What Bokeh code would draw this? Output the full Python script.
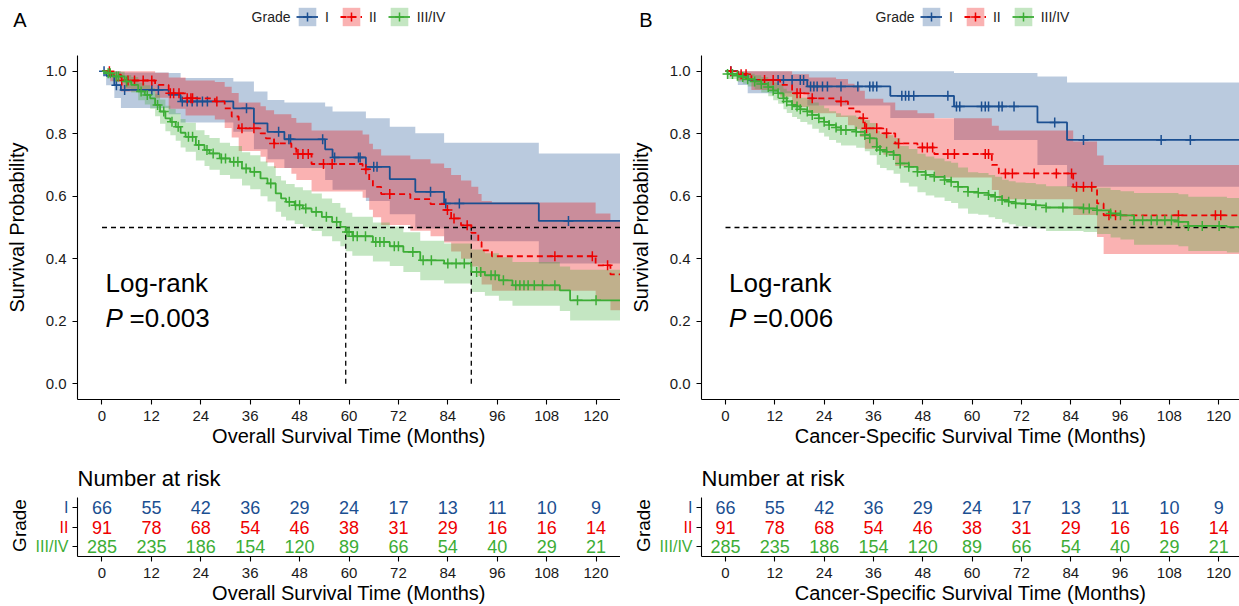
import numpy as np
from bokeh.plotting import figure
from bokeh.layouts import row, column
from bokeh.models import Range1d, FixedTicker, PrintfTickFormatter, Label, Legend, LegendItem
from bokeh.embed import file_html
from bokeh.resources import INLINE
from bokeh.core.properties import value

FONT = "Liberation Sans"

# ---------------- categories / styles ----------------
grades = ["I", "II", "III/IV"]
grade_colors = ["#1B4F91", "#EE0000", "#3DAD36"]
grade_dash = ["solid", "6 4", "solid"]
risk_rows = [3, 2, 1]

# ---------------- number at risk (same in both panels) ----------------
risk_times = [0, 12, 24, 36, 48, 60, 72, 84, 96, 108, 120]
risk_I = [66, 55, 42, 36, 29, 24, 17, 13, 11, 10, 9]
risk_II = [91, 78, 68, 54, 46, 38, 31, 29, 16, 16, 14]
risk_III = [285, 235, 186, 154, 120, 89, 66, 54, 40, 29, 21]

# ---------------- Panel A : overall survival ----------------
A_I_time = [0, 1.0, 3.0, 4.6, 16.2, 19.1, 31.9, 36.9, 40.2, 44.3, 54.2, 56.0, 64.1, 69.9, 76.1, 83.1, 106.1]
A_I_surv = [1.0, 0.985, 0.955, 0.94, 0.924, 0.903, 0.881, 0.833, 0.806, 0.782, 0.75, 0.724, 0.694, 0.655, 0.614, 0.577, 0.521]
A_I_up = [1.0, 1.0, 1.0, 0.996, 0.994, 0.978, 0.967, 0.935, 0.908, 0.9, 0.887, 0.871, 0.849, 0.822, 0.801, 0.771, 0.737]
A_I_low = [1.0, 0.955, 0.914, 0.882, 0.862, 0.836, 0.806, 0.75, 0.718, 0.69, 0.652, 0.621, 0.585, 0.542, 0.497, 0.456, 0.385]
A_I_cens = [0.5, 3.5, 5.5, 12.1, 13.7, 19.5, 20.7, 21.9, 23.1, 24.4, 25.6, 35.1, 42.9, 45.4, 45.8, 53.6, 56.5,
            62.3, 62.7, 66.0, 66.8, 79.8, 83.5, 86.8, 113.3]
A_I_last = 125.9

A_II_time = [0, 2.0, 4.6, 12.9, 16.2, 20.3, 27.4, 29.8, 31.5, 33.2, 38.5, 39.8, 41.8, 46.0, 47.2, 50.9, 63.3,
             64.9, 65.8, 67.8, 74.9, 79.8, 83.1, 84.8, 87.2, 89.7, 91.4, 92.2, 94.7, 119.9, 123.5]
A_II_surv = [1.0, 0.989, 0.97, 0.956, 0.929, 0.913, 0.903, 0.881, 0.855, 0.817, 0.801, 0.785, 0.769, 0.753, 0.735,
             0.703, 0.686, 0.652, 0.63, 0.607, 0.591, 0.575, 0.556, 0.529, 0.507, 0.483, 0.454, 0.427, 0.408, 0.379, 0.35]
A_II_up = [1.0, 1.0, 1.0, 0.995, 0.98, 0.97, 0.965, 0.95, 0.93, 0.9, 0.888, 0.875, 0.862, 0.85, 0.835, 0.81, 0.797,
           0.768, 0.75, 0.73, 0.718, 0.705, 0.69, 0.668, 0.65, 0.63, 0.607, 0.585, 0.58, 0.545, 0.52]
A_II_low = [1.0, 0.968, 0.935, 0.915, 0.88, 0.858, 0.845, 0.818, 0.788, 0.745, 0.726, 0.708, 0.69, 0.672, 0.652,
            0.615, 0.595, 0.557, 0.533, 0.508, 0.49, 0.472, 0.452, 0.423, 0.4, 0.375, 0.345, 0.318, 0.298, 0.265, 0.235]
A_II_cens = [1.8, 4.8, 6.3, 7.9, 10.0, 12.1, 16.6, 17.4, 18.7, 20.7, 21.6, 22.0, 27.9, 34.0, 36.9, 41.8, 47.6,
             48.8, 50.1, 53.8, 55.9, 64.1, 69.9, 83.9, 85.5, 88.7, 110.0, 119.1, 122.8]
A_II_last = 125.9

A_III_time = [0, 1.0, 2.6, 5.5, 7.1, 8.8, 10.4, 11.7, 12.9, 14.1, 15.4, 16.6, 17.9, 19.1, 20.3, 22.8, 24.9, 26.1,
              28.6, 31.1, 34.0, 36.0, 38.5, 40.2, 42.2, 43.5, 44.7, 46.8, 48.8, 50.9, 53.4, 55.9, 57.9, 59.2, 60.8,
              65.8, 69.9, 73.2, 77.3, 83.1, 89.7, 93.0, 96.4, 99.7, 111.2, 113.7]
A_III_surv = [1.0, 0.993, 0.983, 0.967, 0.956, 0.935, 0.924, 0.913, 0.892, 0.871, 0.849, 0.838, 0.822, 0.803, 0.790,
              0.764, 0.748, 0.737, 0.721, 0.710, 0.689, 0.678, 0.657, 0.641, 0.609, 0.593, 0.582, 0.571, 0.561, 0.550,
              0.534, 0.518, 0.502, 0.486, 0.472, 0.454, 0.440, 0.422, 0.395, 0.385, 0.358, 0.347, 0.331, 0.315, 0.299, 0.267]
A_III_up = [1.0, 1.0, 0.998, 0.988, 0.981, 0.963, 0.955, 0.946, 0.928, 0.909, 0.889, 0.879, 0.865, 0.847, 0.835,
            0.811, 0.796, 0.786, 0.771, 0.761, 0.741, 0.731, 0.711, 0.696, 0.665, 0.65, 0.639, 0.629, 0.619, 0.609,
            0.593, 0.578, 0.563, 0.547, 0.534, 0.516, 0.503, 0.485, 0.458, 0.449, 0.43, 0.418, 0.405, 0.39, 0.375, 0.365]
A_III_low = [1.0, 0.985, 0.968, 0.945, 0.932, 0.907, 0.893, 0.88, 0.856, 0.832, 0.808, 0.795, 0.777, 0.756, 0.742,
             0.714, 0.697, 0.685, 0.668, 0.656, 0.634, 0.622, 0.6, 0.583, 0.55, 0.534, 0.522, 0.511, 0.5, 0.489,
             0.472, 0.456, 0.44, 0.424, 0.41, 0.391, 0.377, 0.358, 0.331, 0.321, 0.294, 0.282, 0.266, 0.25, 0.233, 0.203]
A_III_cens = [1.5, 2.0, 3.5, 4.0, 6.0, 9.5, 11.0, 13.5, 15.0, 17.0, 18.5, 21.0, 22.0, 23.5, 25.5, 27.0, 29.0, 30.0,
              32.0, 33.0, 35.0, 37.0, 41.0, 45.5, 47.0, 48.0, 49.5, 52.0, 54.5, 57.0, 59.5, 60.0, 61.0, 62.0, 64.0,
              66.5, 67.5, 68.5, 71.0, 72.0, 75.5, 78.0, 80.0, 84.0, 86.0, 88.0, 91.0, 92.0, 94.5, 95.5, 97.5, 100.5,
              101.5, 102.5, 103.5, 105.0, 107.0, 110.0, 115.5, 120.0]
A_III_last = 125.9

# ---------------- Panel B : cancer-specific survival ----------------
B_I_time = [0, 3.0, 5.4, 19.9, 40.1, 55.6, 75.9, 83.1]
B_I_surv = [1.0, 0.988, 0.972, 0.951, 0.921, 0.887, 0.836, 0.78]
B_I_up = [1.0, 1.0, 1.0, 1.0, 1.0, 0.994, 0.983, 0.964]
B_I_low = [1.0, 0.956, 0.929, 0.89, 0.85, 0.78, 0.7, 0.63]
B_I_cens = [1.3, 12.8, 14.1, 16.2, 18.2, 19.0, 20.7, 21.5, 22.3, 23.6, 24.8, 28.1, 32.2, 35.1, 35.9, 36.8, 42.9,
            43.8, 44.6, 45.8, 54.1, 56.2, 57.0, 62.3, 63.2, 64.0, 66.5, 67.3, 70.2, 80.1, 87.1, 106.0, 113.1]
B_I_last = 125.1

B_II_time = [0, 3.0, 6.3, 13.3, 16.2, 20.3, 26.9, 29.8, 31.4, 32.7, 33.9, 38.4, 41.3, 46.7, 50.8, 64.8, 66.5,
             84.6, 90.4, 92.0]
B_II_surv = [1.0, 0.99, 0.972, 0.956, 0.929, 0.913, 0.903, 0.881, 0.871, 0.849, 0.817, 0.801, 0.769, 0.756, 0.735,
             0.70, 0.673, 0.63, 0.577, 0.539]
B_II_up = [1.0, 1.0, 1.0, 1.0, 0.99, 0.98, 0.975, 0.96, 0.953, 0.937, 0.912, 0.9, 0.875, 0.865, 0.849, 0.825, 0.81,
           0.775, 0.73, 0.70]
B_II_low = [1.0, 0.97, 0.94, 0.918, 0.885, 0.865, 0.853, 0.827, 0.815, 0.789, 0.752, 0.733, 0.697, 0.683, 0.66,
            0.62, 0.59, 0.54, 0.47, 0.415]
B_II_cens = [1.3, 3.8, 5.0, 9.5, 11.6, 17.4, 18.2, 21.1, 28.1, 33.5, 34.3, 36.8, 39.2, 42.1, 47.9, 49.1, 50.4,
             54.1, 55.7, 63.2, 64.0, 68.1, 69.8, 75.1, 80.5, 84.2, 85.4, 87.1, 89.1, 93.3, 94.9, 110.2, 119.2, 120.5]
B_II_last = 125.1

B_III_time = [0, 0.5, 2.9, 4.2, 5.4, 7.1, 8.7, 10.4, 11.6, 12.8, 14.1, 14.9, 16.2, 17.4, 18.2, 19.9, 21.1, 22.7,
              24.0, 25.2, 26.9, 28.1, 31.8, 33.9, 35.1, 36.8, 37.6, 39.2, 40.9, 42.5, 44.6, 46.7, 48.7, 50.8, 53.3,
              54.9, 56.6, 59.0, 61.5, 64.0, 65.6, 67.3, 68.9, 70.6, 73.0, 75.5, 78.0, 87.1, 90.4, 93.7, 96.1, 99.4,
              110.2, 112.6, 122.0]
B_III_surv = [1.0, 0.991, 0.985, 0.981, 0.974, 0.967, 0.959, 0.949, 0.938, 0.929, 0.913, 0.903, 0.892, 0.887, 0.878,
              0.871, 0.860, 0.849, 0.838, 0.828, 0.820, 0.812, 0.806, 0.796, 0.785, 0.758, 0.748, 0.742, 0.732, 0.705,
              0.694, 0.678, 0.668, 0.662, 0.652, 0.646, 0.630, 0.614, 0.611, 0.604, 0.598, 0.588, 0.582, 0.577, 0.575,
              0.571, 0.564, 0.561, 0.555, 0.545, 0.539, 0.523, 0.518, 0.505, 0.502]
B_III_up = [1.0, 1.0, 0.998, 0.996, 0.992, 0.987, 0.981, 0.973, 0.964, 0.957, 0.944, 0.936, 0.927, 0.923, 0.915,
            0.909, 0.9, 0.89, 0.881, 0.872, 0.865, 0.858, 0.853, 0.844, 0.834, 0.809, 0.8, 0.795, 0.786, 0.761,
            0.751, 0.736, 0.727, 0.721, 0.712, 0.707, 0.692, 0.677, 0.674, 0.668, 0.662, 0.653, 0.648, 0.644, 0.642,
            0.638, 0.632, 0.63, 0.627, 0.62, 0.616, 0.61, 0.606, 0.598, 0.594]
B_III_low = [1.0, 0.975, 0.966, 0.96, 0.951, 0.942, 0.932, 0.92, 0.907, 0.896, 0.878, 0.866, 0.853, 0.847, 0.837,
             0.829, 0.816, 0.803, 0.791, 0.78, 0.771, 0.762, 0.755, 0.744, 0.731, 0.701, 0.69, 0.683, 0.672, 0.643,
             0.631, 0.613, 0.602, 0.596, 0.585, 0.578, 0.561, 0.544, 0.541, 0.533, 0.527, 0.516, 0.51, 0.504, 0.502,
             0.497, 0.489, 0.486, 0.479, 0.468, 0.462, 0.445, 0.44, 0.425, 0.42]
B_III_cens = [0.5, 1.7, 2.9, 4.2, 5.4, 7.1, 8.7, 10.4, 11.6, 12.8, 14.1, 14.9, 16.2, 17.4, 18.2, 19.9, 21.1, 22.7,
              24.0, 25.2, 26.9, 28.1, 29.3, 31.8, 33.9, 35.1, 36.8, 37.6, 39.2, 40.9, 42.5, 44.6, 46.7, 48.7, 50.8,
              53.3, 54.9, 56.6, 59.0, 61.5, 64.0, 65.6, 67.3, 68.9, 70.6, 73.0, 75.5, 78.0, 82.1, 87.1, 88.5, 90.4,
              93.7, 96.1, 99.4, 101.5, 103.6, 105.0, 106.9, 108.5, 110.2, 112.6, 116.0, 120.1]
B_III_last = 125.1

x_ticks = [0, 12, 24, 36, 48, 60, 72, 84, 96, 108, 120]
y_ticks = [0.0, 0.2, 0.4, 0.6, 0.8, 1.0]
median_level = 0.5


def curve(time, surv, up, low, cens, last):
    return dict(time=time, surv=surv, up=up, low=low, cens=cens, last=last)


panel_A_curves = [curve(A_I_time, A_I_surv, A_I_up, A_I_low, A_I_cens, A_I_last),
                  curve(A_II_time, A_II_surv, A_II_up, A_II_low, A_II_cens, A_II_last),
                  curve(A_III_time, A_III_surv, A_III_up, A_III_low, A_III_cens, A_III_last)]
panel_B_curves = [curve(B_I_time, B_I_surv, B_I_up, B_I_low, B_I_cens, B_I_last),
                  curve(B_II_time, B_II_surv, B_II_up, B_II_low, B_II_cens, B_II_last),
                  curve(B_III_time, B_III_surv, B_III_up, B_III_low, B_III_cens, B_III_last)]


def step_value(times, values, t):
    i = int(np.searchsorted(np.asarray(times), t, side="right")) - 1
    return values[max(i, 0)]


def style_axis(ax, label):
    ax.axis_line_color = "black"
    ax.axis_line_width = 1.1
    ax.major_tick_line_color = "black"
    ax.major_tick_line_width = 1.1
    ax.major_tick_out = 5
    ax.major_tick_in = 0
    ax.minor_tick_line_color = None
    ax.major_label_text_font = FONT
    ax.major_label_text_font_size = "15px"
    ax.major_label_text_color = "#1a1a1a"
    ax.major_label_standoff = 6
    ax.axis_label = label
    ax.axis_label_text_font = FONT
    ax.axis_label_text_font_size = "20px"
    ax.axis_label_text_font_style = "normal"
    ax.axis_label_text_color = "black"


def plain(f):
    f.outline_line_color = None
    f.xgrid.visible = False
    f.ygrid.visible = False
    return f


HEADER_H = 40
MAIN_H = 410
TABLE_H = 156
T_TOP, T_BOTTOM = 47, 50
T_Y0, T_Y1 = 0.45, 3.55
LETTER_Y = 21


def make_panel(letter, letter_standoff, curves, xlabel, p_text, x_start, x_end, frame_left, fig_w):
    xr = Range1d(x_start, x_end)
    frame_w = fig_w - frame_left

    # ---- header: panel letter (as a lone left tick label) + legend ----
    hd = plain(figure(width=fig_w, height=HEADER_H, x_range=Range1d(0, frame_w), y_range=Range1d(0, HEADER_H),
                      output_backend="svg", toolbar_location=None, x_axis_location=None, y_axis_location="left",
                      min_border_left=frame_left, min_border_right=0, min_border_top=0, min_border_bottom=0))
    ya = hd.yaxis[0]
    ya.ticker = FixedTicker(ticks=[LETTER_Y])
    ya.major_label_overrides = {LETTER_Y: letter}
    ya.axis_line_color = None
    ya.major_tick_line_color = None
    ya.minor_tick_line_color = None
    ya.major_tick_out = 0
    ya.major_tick_in = 0
    ya.major_label_standoff = letter_standoff
    ya.major_label_text_font = FONT
    ya.major_label_text_font_size = "20px"
    ya.major_label_text_color = "black"

    items = []
    nan = [float("nan")]
    for g, c, d in zip(grades, grade_colors, grade_dash):
        kb = hd.varea(x=nan, y1=nan, y2=nan, fill_color=c, fill_alpha=0.3)
        kl = hd.line(x=nan, y=nan, line_color=c, line_width=1.8, line_dash=d)
        km = hd.scatter(x=nan, y=nan, marker="cross", size=10, line_color=c, line_width=1.5)
        items.append(LegendItem(label=g, renderers=[kb, kl, km]))
    legend = Legend(items=items, location=(219, 12), orientation="horizontal",
                    label_text_font=FONT, label_text_font_size="14px", label_text_color="#222222",
                    glyph_width=22, glyph_height=23, label_standoff=7, label_width=0, spacing=11,
                    padding=0, margin=0, background_fill_alpha=0, border_line_alpha=0)
    hd.add_layout(legend)
    hd.add_layout(Label(x=213, y=23.5, x_units="screen", y_units="screen", text="Grade",
                        text_font=FONT, text_font_size="14px", text_color="#222222",
                        text_align="right", text_baseline="middle"))

    # ---- survival curves ----
    p = plain(figure(width=fig_w, height=MAIN_H, x_range=xr, y_range=Range1d(-0.05, 1.05),
                     output_backend="svg", toolbar_location=None,
                     min_border_left=frame_left, min_border_right=0, min_border_top=15, min_border_bottom=51))
    style_axis(p.xaxis[0], xlabel)
    p.xaxis[0].ticker = FixedTicker(ticks=x_ticks)
    p.xaxis[0].axis_label_standoff = 1
    style_axis(p.yaxis[0], "Survival Probability")
    p.yaxis[0].ticker = FixedTicker(ticks=y_ticks)
    p.yaxis[0].formatter = PrintfTickFormatter(format="%.1f")
    p.yaxis[0].axis_label_standoff = 15

    for c, cv in zip(grade_colors, curves):
        t = list(cv["time"]) + [cv["last"]]
        lo = list(cv["low"]) + [cv["low"][-1]]
        hi = list(cv["up"]) + [cv["up"][-1]]
        p.varea_step(x=t, y1=lo, y2=hi, step_mode="after", fill_color=c, fill_alpha=0.3)

    medians = []
    for cv in curves:
        below = [tt for tt, ss in zip(cv["time"], cv["surv"]) if ss <= median_level]
        if below:
            medians.append(below[0])
    p.segment(x0=[0], y0=[median_level], x1=[x_end], y1=[median_level],
              line_color="black", line_dash="5 4", line_width=1.4)
    if medians:
        p.segment(x0=medians, y0=[0] * len(medians), x1=medians, y1=[median_level] * len(medians),
                  line_color="black", line_dash="5 4", line_width=1.3)

    for c, d, cv in zip(grade_colors, grade_dash, curves):
        t = list(cv["time"]) + [cv["last"]]
        s = list(cv["surv"]) + [cv["surv"][-1]]
        p.step(x=t, y=s, mode="after", line_color=c, line_width=1.8, line_dash=d)
        cy = [step_value(cv["time"], cv["surv"], ct) for ct in cv["cens"]]
        p.scatter(x=cv["cens"], y=cy, marker="cross", size=10, line_color=c, line_width=1.5)

    p.add_layout(Label(x=0.85, y=0.3215, text="Log-rank", text_font=FONT, text_font_size="26px",
                       text_color="black", text_baseline="alphabetic"))
    p.add_layout(Label(x=0.85, y=0.212, text="P", text_font=FONT, text_font_size="26px",
                       text_color="black", text_font_style="italic", text_baseline="alphabetic"))
    p.add_layout(Label(x=0.85, x_offset=24, y=0.212, text=p_text, text_font=FONT, text_font_size="26px",
                       text_color="black", text_baseline="alphabetic"))

    # ---- number at risk: row labels (frame aligned with the table's frame) ----
    lw = frame_left - 8
    lab = plain(figure(width=lw, height=TABLE_H, x_range=Range1d(0, lw), y_range=Range1d(T_Y0, T_Y1),
                       output_backend="svg", toolbar_location=None, x_axis_location=None, y_axis_location=None,
                       min_border_left=0, min_border_right=0, min_border_top=T_TOP, min_border_bottom=T_BOTTOM))
    lab.text(x=[lw - 1] * len(grades), y=risk_rows, text=grades, text_color=grade_colors,
             text_font=value(FONT), text_font_size="16px", text_align="right", text_baseline="middle")
    lab.add_layout(Label(x=frame_left - 58, y=31, x_units="screen", y_units="screen", text="Grade",
                         angle=np.pi / 2, text_font=FONT, text_font_size="19px", text_color="black",
                         text_align="center", text_baseline="middle"))

    # ---- number at risk: table ----
    q = plain(figure(width=fig_w - lw, height=TABLE_H, x_range=xr, y_range=Range1d(T_Y0, T_Y1),
                     output_backend="svg", toolbar_location=None,
                     min_border_left=8, min_border_right=0, min_border_top=T_TOP, min_border_bottom=T_BOTTOM))
    q.title.text = "Number at risk"
    q.title.align = "left"
    q.title.text_font = FONT
    q.title.text_font_size = "22px"
    q.title.text_font_style = "normal"
    q.title.text_color = "black"
    q.title.standoff = 13
    style_axis(q.xaxis[0], xlabel)
    q.xaxis[0].ticker = FixedTicker(ticks=x_ticks)
    q.xaxis[0].axis_label_standoff = 1
    style_axis(q.yaxis[0], None)
    q.yaxis[0].ticker = FixedTicker(ticks=risk_rows)
    q.yaxis[0].major_label_overrides = {1: "", 2: "", 3: ""}
    q.yaxis[0].major_label_standoff = 0
    for c, counts, r in zip(grade_colors, [risk_I, risk_II, risk_III], risk_rows):
        q.text(x=risk_times, y=[r] * len(risk_times), text=[str(n) for n in counts],
               text_color=c, text_font=value(FONT), text_font_size="18px",
               text_align="center", text_baseline="middle")

    return column(hd, p, row(lab, q))


panel_a = make_panel("A", 51, panel_A_curves, "Overall Survival Time (Months)", "=0.003",
                     -5.95, 125.94, 77, 620)
panel_b = make_panel("B", 49, panel_B_curves, "Cancer-Specific Survival Time (Months)", "=0.006",
                     -5.84, 125.06, 81, 619)
layout = row(panel_a, panel_b)

open("out.html", "w").write(file_html(layout, INLINE))
